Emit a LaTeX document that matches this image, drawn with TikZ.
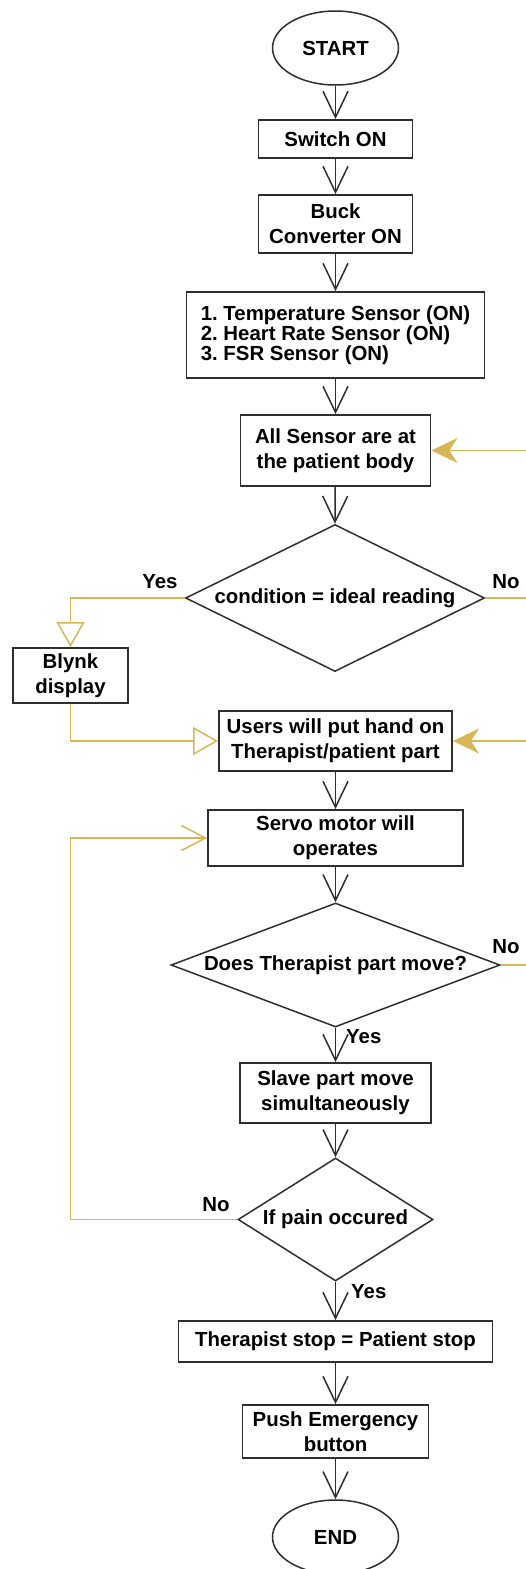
\documentclass[tikz,border=0pt]{standalone}
\usepackage{fontspec}
\setmainfont{Liberation Sans}
\usetikzlibrary{shapes.geometric,arrows.meta}
\definecolor{ink}{HTML}{2E2E2E}
\definecolor{gold}{HTML}{D6B656}

\begin{document}
\frenchspacing
\begin{tikzpicture}[x=1pt,y=-1pt,
  every node/.style={text=black, font=\bfseries\fontsize{20.4}{25}\selectfont},
  proc/.style={draw=ink, line width=1.9pt, rectangle, inner sep=0pt, align=center},
  term/.style={draw=ink, line width=1.5pt, ellipse, minimum width=126pt, minimum height=74pt, inner sep=0pt},
  decide/.style={draw=ink, line width=1.5pt, diamond, inner sep=0pt},
  tag/.style={inner sep=0pt},
  flow/.style={draw=ink, line width=1.5pt, -{Straight Barb[length=26pt,width=25pt,line width=1.5pt]}},
  goldline/.style={draw=gold, line width=1.5pt},
  goldtri/.style={goldline, -{Triangle[open,length=25pt,width=28pt,fill=white,line width=1.5pt]}},
  goldbarb/.style={goldline, -{Straight Barb[length=24pt,width=25pt,line width=1.5pt]}},
  goldfill/.style={goldline, -{Stealth[length=26pt,width=25pt,inset=8pt]}}
]
\useasboundingbox (0,0) rectangle (525,1569);

% main column
\node[term] (start) at (335.5,48) {START};
\node[proc, minimum width=154pt, minimum height=38pt] (sw) at (335.5,139) {Switch ON};
\node[proc, minimum width=154pt, minimum height=58pt] (buck) at (335.5,224) {Buck\\Converter ON};
\node[proc, minimum width=298pt, minimum height=86pt, align=left,
      font=\bfseries\fontsize{20.4}{19}\selectfont] (sens) at (335.5,335)
      {1. Temperature Sensor (ON)\\2. Heart Rate Sensor (ON)\\3. FSR Sensor (ON)};
\node[proc, minimum width=190pt, minimum height=71pt] (all) at (335.5,450.5) {All Sensor are at\\the patient body};
\node[decide, minimum width=299pt, minimum height=147pt,
      label={center:condition = ideal reading}] (d1) at (335,598) {};
\node[proc, minimum width=115pt, minimum height=55pt] (blynk) at (70.5,675.5) {Blynk\\display};
\node[proc, minimum width=233pt, minimum height=60pt] (users) at (335.5,741) {Users will put hand on\\Therapist/patient part};
\node[proc, minimum width=255pt, minimum height=56pt] (servo) at (335.5,838) {Servo motor will\\operates};
\node[decide, minimum width=329pt, minimum height=124pt,
      label={center:Does Therapist part move?}] (d2) at (335.5,965) {};
\node[proc, minimum width=191pt, minimum height=60pt] (slave) at (335.5,1093) {Slave part move\\simultaneously};
\node[decide, minimum width=195pt, minimum height=123pt,
      label={center:If pain occured}] (d3) at (335.5,1219.5) {};
\node[proc, minimum width=314pt, minimum height=41pt] (stop) at (335.5,1341.5) {Therapist stop = Patient stop};
\node[proc, minimum width=186pt, minimum height=53pt] (push) at (335.5,1431.5) {Push Emergency\\button};
\node[term] (end) at (335.5,1537) {END};

% branch labels
\node[tag] (yes1) at (160,582) {Yes};
\node[tag] (no1) at (506,582) {No};
\node[tag] (no2) at (506,947) {No};
\node[tag, anchor=west] (yes2) at (346,1037) {Yes};
\node[tag, anchor=west] (yes3) at (351,1292) {Yes};
\node[tag] (no3) at (216,1205) {No};

% main flow
\draw[flow] (start) -- (sw);
\draw[flow] (sw) -- (buck);
\draw[flow] (buck) -- (sens);
\draw[flow] (sens) -- (all);
\draw[flow] (all) -- (d1.north);
\draw[flow] (users) -- (servo);
\draw[flow] (servo) -- (d2.north);
\draw[flow] (d2.south) -- (slave);
\draw[flow] (slave) -- (d3.north);
\draw[flow] (d3.south) -- (stop);
\draw[flow] (stop) -- (push);
\draw[flow] (push) -- (end);

% side branches
\coordinate (out1) at (530,598);
\coordinate (out2) at (530,965);
\coordinate (in1) at (530,450.5);
\coordinate (in2) at (530,741);
\coordinate (loop) at (70.5,838);

\draw[goldtri] (d1.west) -| (blynk.north);
\draw[goldtri] (blynk.south) |- (users.west);
\draw[goldline] (d1.east) -- (out1);
\draw[goldfill] (in1) -- (all.east);
\draw[goldfill] (in2) -- (users.east);
\draw[goldline] (d2.east) -- (out2);
\draw[goldbarb] (d3.west) -| (loop) -- (servo.west);
\end{tikzpicture}
\end{document}
